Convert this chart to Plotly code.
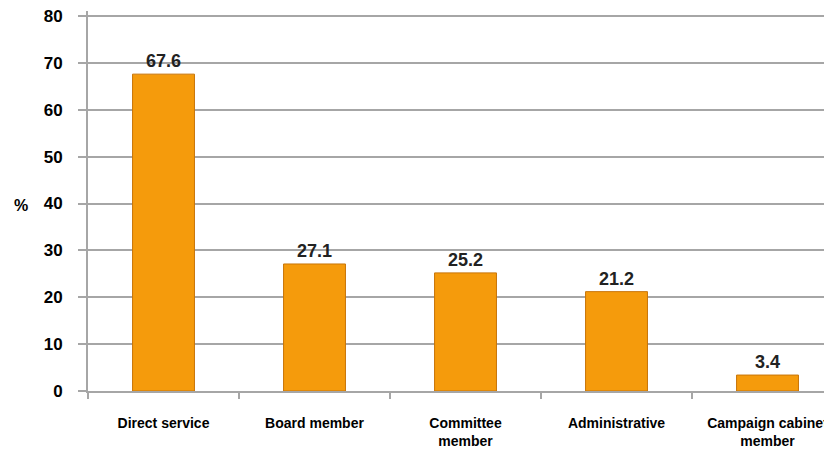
import plotly.graph_objects as go

categories = ["Direct service", "Board member", "Committee<br>member", "Administrative", "Campaign cabinet<br>member"]
values = [67.6, 27.1, 25.2, 21.2, 3.4]
value_labels = ["67.6", "27.1", "25.2", "21.2", "3.4"]
y_ticks = [0, 10, 20, 30, 40, 50, 60, 70, 80]

fig = go.Figure()
fig.add_trace(go.Bar(
    x=categories,
    y=values,
    width=0.41,
    marker=dict(color="#F59B0C", line=dict(color="#C87508", width=1)),
    text=value_labels,
    textposition="outside",
    textfont=dict(family="Liberation Sans", size=18, color="#222222", weight="bold"),
    cliponaxis=False,
))

fig.update_layout(
    width=832, height=454,
    margin=dict(l=80, r=0, t=3, b=71, autoexpand=False),
    plot_bgcolor="white", paper_bgcolor="white",
    showlegend=False,
    font=dict(family="Liberation Sans", color="black"),
)
fig.update_xaxes(
    range=[-0.5, 4.48], automargin=False,
    showline=True, linecolor="#A6A6A6", linewidth=2,
    ticks="outside", tickson="boundaries", ticklen=6, tickcolor="#A6A6A6", tickwidth=2,
    tickfont=dict(family="Liberation Sans", size=14, color="black", weight="bold"),
    ticklabelstandoff=18, ticklabeloverflow="allow",
    showgrid=False,
)
fig.update_yaxes(
    range=[0, 81.07], tickvals=y_ticks, automargin=False,
    showline=True, linecolor="#A6A6A6", linewidth=2,
    showgrid=True, gridcolor="#A6A6A6", gridwidth=2,
    ticks="outside", ticklen=8, tickcolor="#A6A6A6", tickwidth=2,
    tickfont=dict(family="Liberation Sans", size=17, color="black", weight="bold"),
    ticklabelstandoff=12, ticklabeloverflow="allow",
    zeroline=False,
)
fig.add_annotation(
    text="%", xref="paper", yref="paper", x=-0.089, y=0.489,
    showarrow=False, xanchor="center", yanchor="middle",
    font=dict(family="Liberation Sans", size=16, color="black", weight="bold"),
)
fig.write_html("out.html")
